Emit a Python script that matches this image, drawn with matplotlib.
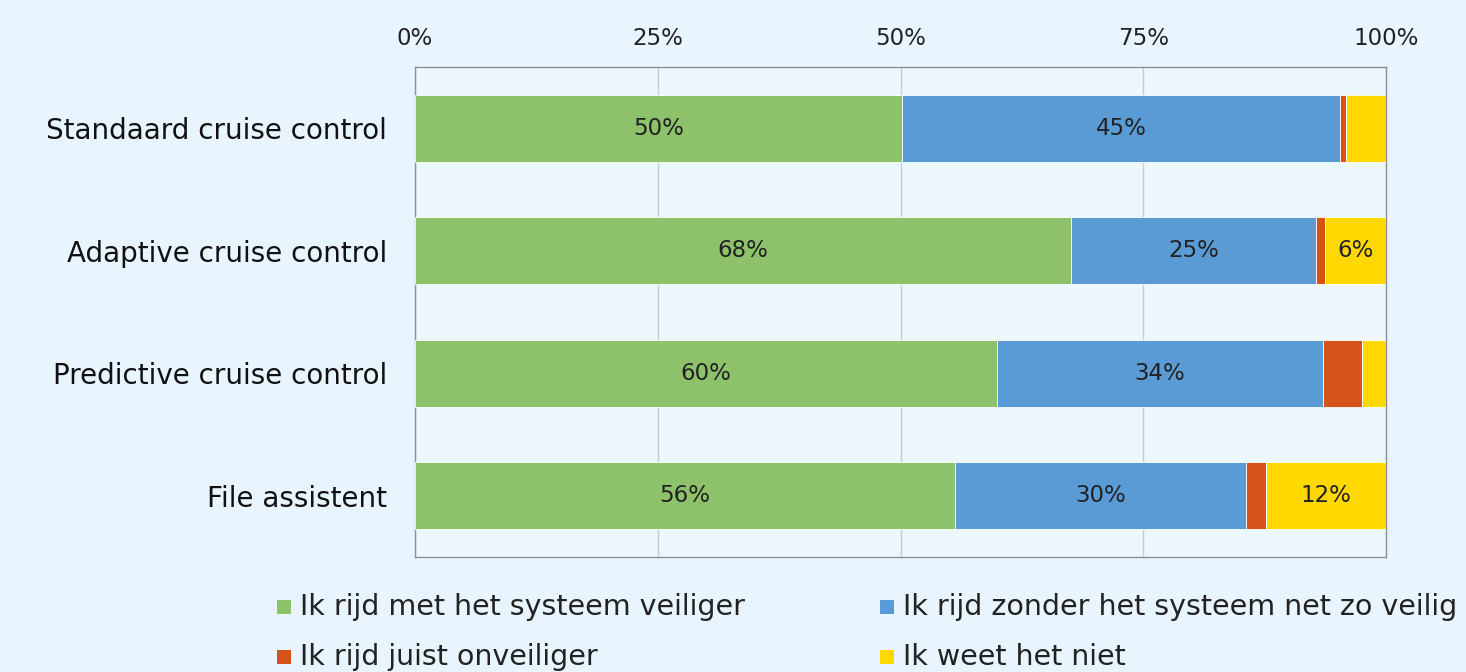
import matplotlib.pyplot as plt
from matplotlib.patches import Rectangle
import numpy as np

categories = ['Standaard cruise control', 'Adaptive cruise control',
              'Predictive cruise control', 'File assistent']
series_names = ['Ik rijd met het systeem veiliger',
                'Ik rijd zonder het systeem net zo veilig',
                'Ik rijd juist onveiliger',
                'Ik weet het niet']
veiliger = [50.2, 67.6, 59.9, 55.6]
net_zo_veilig = [45.1, 25.2, 33.6, 30.0]
onveiliger = [0.6, 0.9, 4.0, 2.0]
weet_niet = [4.1, 6.3, 2.5, 12.4]
colors = ['#8DC26B', '#5B9BD5', '#D55218', '#FFD800']

bg = '#E9F5FE'
W, H = 1466, 672
plt.rcParams['font.family'] = 'DejaVu Sans'

fig = plt.figure(figsize=(W / 100, H / 100), dpi=100, facecolor=bg)
ax = fig.add_axes([415 / W, 1 - 557 / H, (1386 - 415) / W, (557 - 67) / H])
ax.set_facecolor('#EDF7FE')

y = np.arange(len(categories))
left = np.zeros(len(categories))
for vals, col, name in zip([veiliger, net_zo_veilig, onveiliger, weet_niet], colors, series_names):
    vals = np.array(vals)
    bars = ax.barh(y, vals, left=left, height=0.55, color=col, edgecolor='white',
                   linewidth=0.6, label=name, zorder=3)
    for b, v in zip(bars, vals):
        if v >= 5:
            ax.text(b.get_x() + b.get_width() / 2, b.get_y() + b.get_height() / 2,
                    f'{v:.0f}%', ha='center', va='center', fontsize=16.5, color='#222222', zorder=4)
    left += vals

ax.set_xlim(0, 100)
ax.set_ylim(3.5, -0.5)
ax.set_yticks(y)
ax.set_yticklabels(categories, fontsize=20, color='#111111')
ax.set_xticks([0, 25, 50, 75, 100])
ax.set_xticklabels(['0%', '25%', '50%', '75%', '100%'], fontsize=16.5, color='#222222')
ax.xaxis.tick_top()
ax.tick_params(axis='both', length=0)
ax.tick_params(axis='x', pad=12)
ax.tick_params(axis='y', pad=20)
ax.grid(axis='x', color='#C4CCD4', linewidth=1, zorder=0)
for s in ax.spines.values():
    s.set_color('#8A9098')
    s.set_linewidth(1)

# legend, laid out by hand in two rows (row-major like the original)
legend_x = [277, 880]
legend_y = [607, 657]
for i, (name, col) in enumerate(zip(series_names, colors)):
    lx = legend_x[i % 2]
    ly = legend_y[i // 2]
    fig.add_artist(Rectangle((lx / W, 1 - (ly + 7) / H), 14 / W, 14 / H,
                             transform=fig.transFigure, facecolor=col, edgecolor='none'))
    fig.text((lx + 23) / W, 1 - ly / H, name, fontsize=20.5, color='#222222',
             ha='left', va='center')

fig.savefig('out.png', dpi=100, facecolor=bg)
